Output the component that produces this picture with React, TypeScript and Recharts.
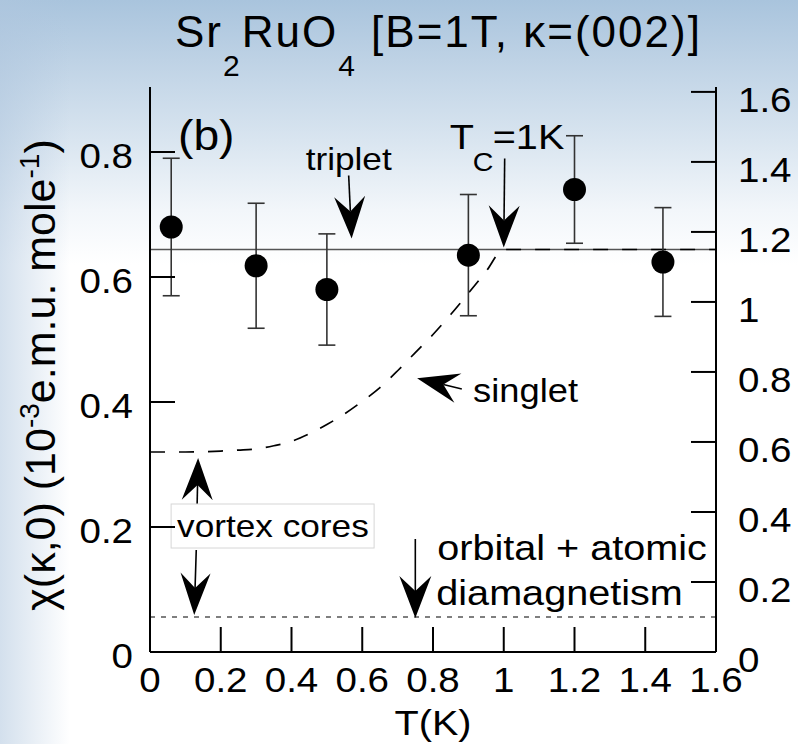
import React from 'react';
import { ComposedChart, Line, Scatter, ErrorBar, XAxis, YAxis, ReferenceDot } from 'recharts';

const FONT = '"Liberation Sans", Arial, Helvetica, sans-serif';
const STRETCH = 1.1;
const TICK_LEN = 25;

// temperature grid (K) for the model curves
const temps = [
  0, 0.05, 0.1, 0.15, 0.2, 0.25, 0.3, 0.35, 0.4, 0.45, 0.5, 0.55, 0.6, 0.65, 0.7, 0.75, 0.8,
  0.85, 0.9, 0.95, 1.0, 1.05, 1.1, 1.15, 1.2, 1.25, 1.3, 1.35, 1.4, 1.45, 1.5, 1.55, 1.6,
];
// singlet susceptibility, falls to the vortex-core value below Tc
const singlet = [
  0.32, 0.32, 0.32, 0.3205, 0.3215, 0.323, 0.325, 0.33, 0.337, 0.349, 0.364, 0.381, 0.401,
  0.423, 0.45, 0.479, 0.508, 0.54, 0.574, 0.609, 0.644, 0.644, 0.644, 0.644, 0.644, 0.644,
  0.644, 0.644, 0.644, 0.644, 0.644, 0.644, 0.644,
];
const tripletLevel = 0.644;
const diamagLevel = 0.056;

// measured points with error bars
const dataT = [0.06, 0.3, 0.5, 0.9, 1.2, 1.45];
const dataChi = [0.68, 0.618, 0.58, 0.635, 0.74, 0.624];
const dataErr = [0.11, 0.1, 0.089, 0.097, 0.086, 0.087];

const tTicks = [0, 0.2, 0.4, 0.6, 0.8, 1, 1.2, 1.4, 1.6];
const chiTicks = [0, 0.2, 0.4, 0.6, 0.8];
const rightTicks = [0, 0.2, 0.4, 0.6, 0.8, 1, 1.2, 1.4, 1.6];
const CHI_MAX = 0.904;
const RIGHT_MAX = 1.614;

const curveRows = temps.map((T, i) => ({
  T,
  singlet: singlet[i],
  triplet: tripletLevel,
  diamag: diamagLevel,
}));
const points = dataT.map((T, i) => ({ T, chi: dataChi[i], err: dataErr[i] }));

const fmt = (v: number) => String(Math.round(v * 10) / 10);

function SText({ x, y, size, anchor = 'start', children }: any) {
  return (
    <text
      transform={`translate(${x},${y}) scale(${STRETCH},1)`}
      textAnchor={anchor}
      fontSize={size}
      fontFamily={FONT}
      fill="#000"
    >
      {children}
    </text>
  );
}

function BottomTick({ x, y, payload }: any) {
  return (
    <g>
      <line x1={x} x2={x} y1={y} y2={y - TICK_LEN} stroke="#000" strokeWidth={2} />
      <SText x={x} y={y + 40} size={35} anchor="middle">{fmt(payload.value)}</SText>
    </g>
  );
}

function TopTick({ x, y }: any) {
  return <line x1={x} x2={x} y1={y} y2={y + TICK_LEN} stroke="#000" strokeWidth={2} />;
}

function LeftTick({ x, y, payload }: any) {
  return (
    <g>
      <line x1={x} x2={x + TICK_LEN} y1={y} y2={y} stroke="#000" strokeWidth={2} />
      <SText x={x - 17} y={y + 16} size={35} anchor="end">{fmt(payload.value)}</SText>
    </g>
  );
}

function RightTick({ x, y, payload }: any) {
  return (
    <g>
      <line x1={x} x2={x - TICK_LEN} y1={y} y2={y} stroke="#000" strokeWidth={2} />
      <SText x={x + 22} y={y + 20} size={35}>{fmt(payload.value)}</SText>
    </g>
  );
}

// barbed arrow with its tip at (x, y), pointing along angle (degrees)
function Arrow({ x, y, angle, shaft, head = 42, half = 15.5, notch = 15 }: any) {
  return (
    <g transform={`translate(${x},${y}) rotate(${angle})`}>
      <line x1={-shaft} y1={0} x2={-head + notch} y2={0} stroke="#000" strokeWidth={1.6} />
      <path d={`M0,0 L${-head},${-half} L${-head + notch},0 L${-head},${half} Z`} fill="#000" />
    </g>
  );
}

const DataDot = (p: any) => <circle cx={p.cx} cy={p.cy} r={11.5} fill="#000" />;

export default function App() {
  return (
    <div
      style={{
        position: 'absolute',
        left: 0,
        top: 0,
        width: 798,
        height: 744,
        background:
          'linear-gradient(to right, rgba(175,198,222,0.55) 0px, rgba(175,198,222,0) 70px), ' +
          'linear-gradient(to bottom, #a9c4dd 0px, #bed2e5 60px, #d9e5f0 140px, #f2f6fa 210px, #ffffff 265px)',
      }}
    >
      <ComposedChart
        width={798}
        height={744}
        data={curveRows}
        margin={{ top: 87, right: 0, bottom: 0, left: 0 }}
      >
        <XAxis
          dataKey="T"
          type="number"
          domain={[0, 1.6]}
          ticks={tTicks}
          interval={0}
          height={92}
          tickSize={0}
          tickMargin={0}
          tickLine={false}
          axisLine={{ stroke: '#000', strokeWidth: 2 }}
          tick={<BottomTick />}
          allowDataOverflow
        />
        <XAxis
          xAxisId="top"
          orientation="top"
          dataKey="T"
          type="number"
          domain={[0, 1.6]}
          ticks={tTicks}
          interval={0}
          height={0}
          tickSize={0}
          tickMargin={0}
          tickLine={false}
          axisLine={{ stroke: '#000', strokeWidth: 2 }}
          tick={<TopTick />}
          allowDataOverflow
        />
        <YAxis
          yAxisId="left"
          type="number"
          domain={[0, CHI_MAX]}
          ticks={chiTicks}
          interval={0}
          width={150}
          tickSize={0}
          tickMargin={0}
          tickLine={false}
          axisLine={{ stroke: '#000', strokeWidth: 2 }}
          tick={<LeftTick />}
          allowDataOverflow
        />
        <YAxis
          yAxisId="right"
          orientation="right"
          type="number"
          domain={[0, RIGHT_MAX]}
          ticks={rightTicks}
          interval={0}
          width={82}
          tickSize={0}
          tickMargin={0}
          tickLine={false}
          axisLine={{ stroke: '#000', strokeWidth: 2 }}
          tick={<RightTick />}
          allowDataOverflow
        />

        <Line
          yAxisId="left"
          dataKey="diamag"
          stroke="#555"
          strokeWidth={1.4}
          strokeDasharray="5 6"
          dot={false}
          isAnimationActive={false}
        />
        <Line
          yAxisId="left"
          dataKey="triplet"
          stroke="#555"
          strokeWidth={1.6}
          dot={false}
          isAnimationActive={false}
        />
        <Line
          yAxisId="left"
          type="monotone"
          dataKey="singlet"
          stroke="#000"
          strokeWidth={1.7}
          strokeDasharray="15 14"
          dot={false}
          isAnimationActive={false}
        />
        <Scatter
          yAxisId="left"
          data={points}
          dataKey="chi"
          fill="#000"
          shape={DataDot}
          isAnimationActive={false}
        >
          <ErrorBar dataKey="err" direction="y" width={8.5} stroke="#333" strokeWidth={1.6} />
        </Scatter>

        {/* triplet arrow */}
        <ReferenceDot
          yAxisId="left"
          x={0.57}
          y={tripletLevel}
          ifOverflow="visible"
          shape={(p: any) => (
            <g>
              <Arrow x={p.cx} y={p.cy - 11} angle={87.3} shaft={63} />
              <SText x={p.cx - 46} y={p.cy - 80} size={32}>triplet</SText>
            </g>
          )}
        />
        {/* Tc arrow */}
        <ReferenceDot
          yAxisId="left"
          x={1}
          y={tripletLevel}
          ifOverflow="visible"
          shape={(p: any) => (
            <g>
              <Arrow x={p.cx} y={p.cy - 2} angle={90.6} shaft={89} />
              <SText x={p.cx - 54} y={p.cy - 101} size={36}>T</SText>
              <SText x={p.cx - 31} y={p.cy - 79} size={26}>C</SText>
              <SText x={p.cx - 11} y={p.cy - 101} size={36}>=1K</SText>
            </g>
          )}
        />
        {/* singlet arrow */}
        <ReferenceDot
          yAxisId="left"
          x={0.755}
          y={0.438}
          ifOverflow="visible"
          shape={(p: any) => (
            <g>
              <Arrow x={p.cx} y={p.cy} angle={193.5} shaft={46} half={15} />
              <SText x={p.cx + 56} y={p.cy + 24} size={33}>singlet</SText>
            </g>
          )}
        />
        {/* vortex cores: box and up arrow */}
        <ReferenceDot
          yAxisId="left"
          x={0.136}
          y={singlet[0]}
          ifOverflow="visible"
          shape={(p: any) => (
            <g>
              <Arrow x={p.cx} y={p.cy + 6} angle={-88.8} shaft={46} />
              <rect x={p.cx - 27} y={p.cy + 52} width={203} height={44} fill="#fff" stroke="#d6d6d6" strokeWidth={1} />
              <SText x={p.cx - 21} y={p.cy + 85} size={32}>vortex cores</SText>
            </g>
          )}
        />
        <ReferenceDot
          yAxisId="left"
          x={0.125}
          y={diamagLevel}
          ifOverflow="visible"
          shape={(p: any) => <Arrow x={p.cx} y={p.cy - 2} angle={91.8} shaft={65} half={15} />}
        />
        {/* orbital + atomic diamagnetism */}
        <ReferenceDot
          yAxisId="left"
          x={0.75}
          y={diamagLevel}
          ifOverflow="visible"
          shape={(p: any) => (
            <g>
              <Arrow x={p.cx} y={p.cy + 1} angle={90} shaft={79} half={16} />
              <SText x={p.cx + 22} y={p.cy - 57} size={36}>orbital + atomic</SText>
              <SText x={p.cx + 21} y={p.cy - 12} size={36}>diamagnetism</SText>
            </g>
          )}
        />
      </ComposedChart>

      <svg
        width={798}
        height={744}
        style={{ position: 'absolute', left: 0, top: 0, pointerEvents: 'none' }}
      >
        <text x={175} y={47} fontFamily={FONT} fontSize={44} letterSpacing={2} fill="#000">
          Sr
          <tspan dy={29} fontSize={30}>2</tspan>
          <tspan dy={-29}>RuO</tspan>
          <tspan dy={29} fontSize={30}>4</tspan>
          <tspan dy={-29}> [B=1T, κ=(002)]</tspan>
        </text>
        <SText x={178} y={150} size={42}>(b)</SText>
        <text
          transform="translate(55,375) rotate(-90)"
          textAnchor="middle"
          fontFamily={FONT}
          fontSize={43}
          fill="#000"
        >
          χ(κ,0) (10
          <tspan dy={-16} fontSize={28}>-3</tspan>
          <tspan dy={16}>e.m.u. mole</tspan>
          <tspan dy={-16} fontSize={28}>-1</tspan>
          <tspan dy={16}>)</tspan>
        </text>
        <SText x={433} y={735} size={36} anchor="middle">T(K)</SText>
      </svg>
    </div>
  );
}
